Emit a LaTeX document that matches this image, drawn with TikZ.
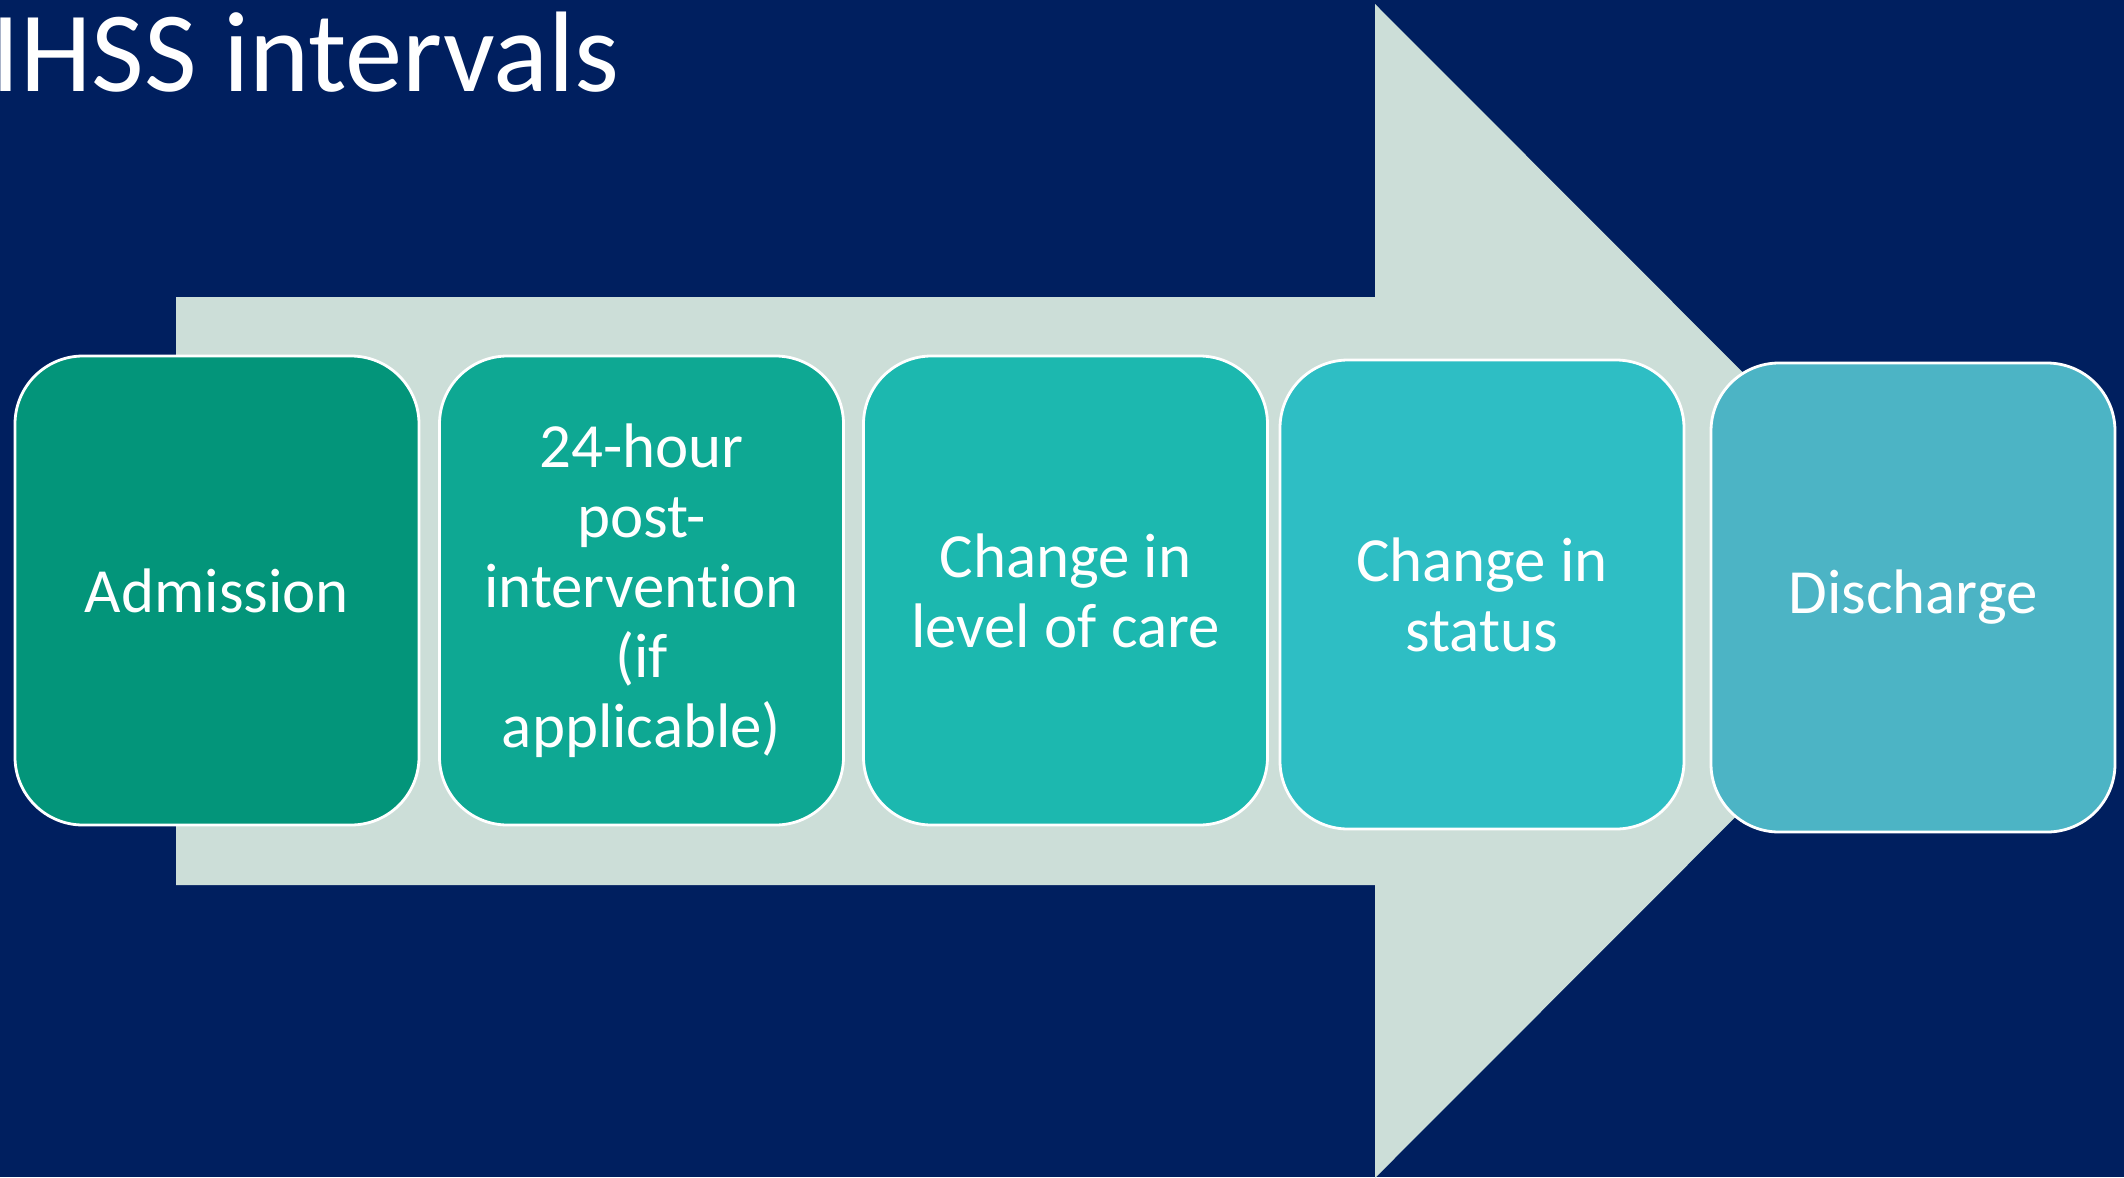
\documentclass[tikz,border=0pt]{standalone}
\usepackage{fontspec}
\setmainfont{Carlito}[Ligatures={NoCommon}]
\usepackage{tikz}

\definecolor{slidebg}{HTML}{001F5F}
\definecolor{arrowgray}{HTML}{CCDED8}
\definecolor{stageA}{HTML}{03957A}
\definecolor{stageB}{HTML}{0EA893}
\definecolor{stageC}{HTML}{1CB8AF}
\definecolor{stageD}{HTML}{2EBEC4}
\definecolor{stageE}{HTML}{4CB4C5}

\begin{document}
\begin{tikzpicture}
              \tikzstyle{every node}+=[inner sep=0pt, text=white]
              \tikzstyle{stage}=[draw=white, line width=0.8pt, rounded corners=0.68cm,
                minimum width=4.04cm, minimum height=4.69cm, align=center,
                font=\fontsize{17.9}{19.9}\selectfont]
              \useasboundingbox (0,0) rectangle (21.24,-11.77);
              \fill [slidebg] (0,0) rectangle (21.24,-11.77);
              % big block arrow behind the stages
              \fill [arrowgray] (1.76,-2.97) -- (13.75,-2.97) -- (13.75,-0.04) -- (19.61,-5.91)
                -- (13.75,-11.78) -- (13.75,-8.85) -- (1.76,-8.85) -- cycle;
              \node [anchor=base west, font=\fontsize{32.6}{38}\selectfont] (title) at (-0.09,-0.91) {IHSS intervals};
              \node [stage, fill=stageA] (admission) at (2.17,-5.905) {Admission};
              \node [stage, fill=stageB] (posthour) at (6.415,-5.905) {24-hour\\post-\\intervention\\(if\\applicable)};
              \node [stage, fill=stageC] (levelcare) at (10.655,-5.905) {Change in\\level of care};
              \node [stage, fill=stageD] (status) at (14.82,-5.945) {Change in\\status};
              \node [stage, fill=stageE] (discharge) at (19.13,-5.975) {Discharge};
            \end{tikzpicture}
\end{document}
